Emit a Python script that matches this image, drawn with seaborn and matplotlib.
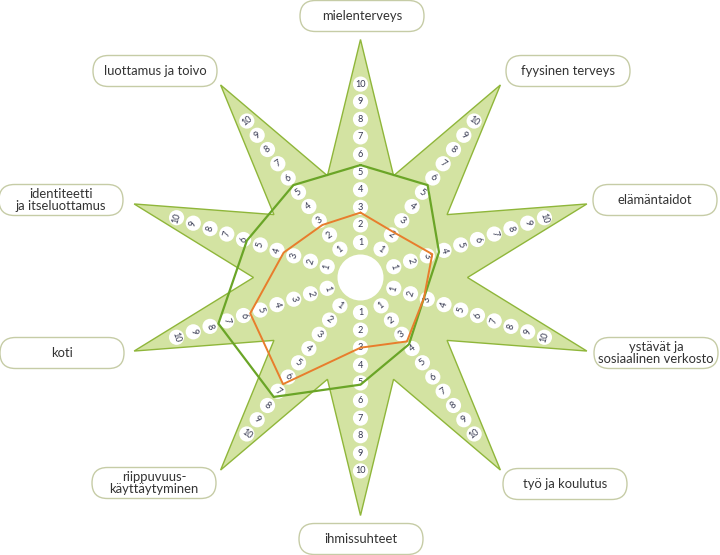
import numpy as np
import pandas as pd
import matplotlib
matplotlib.use("Agg")
import matplotlib.pyplot as plt
from matplotlib.patches import FancyBboxPatch, Circle, Polygon
import seaborn as sns

# arms clockwise from the top
categories = ["mielenterveys", "fyysinen terveys", "elämäntaidot",
              "ystävät ja\nsosiaalinen verkosto", "työ ja koulutus", "ihmissuhteet",
              "riippuvuus-\nkäyttäytyminen", "koti", "identiteetti\nja itseluottamus",
              "luottamus ja toivo"]
scale = list(range(1, 11))
green_scores = [5.4, 5.5, 3.7, 2.8, 3.7, 5.1, 7.4, 7.5, 5.8, 5.5]
orange_scores = [2.7, 2.2, 3.3, 2.8, 3.5, 3.0, 6.5, 5.6, 3.6, 2.7]

# layout, in pixels
cx, cy = 360.5, 277.5
tip_r, valley_r = 238, 107
hub_r = 23
r0, step = 17.4, 17.6
label_pos = [(362, 16), (568, 71), (655, 200), (656, 353), (565, 484),
             (361, 539), (154, 483), (62, 353), (61, 200), (155, 71)]

angles_deg = 90 - 36 * np.arange(len(categories))
angles = np.deg2rad(angles_deg)


def to_xy(values):
    r = r0 + step * np.asarray(values, dtype=float)
    return cx + r * np.cos(angles), cy - r * np.sin(angles)


sns.set_theme(style="white")
plt.rcParams['font.family'] = ['Lato', 'DejaVu Sans']

fig = plt.figure(figsize=(7.2, 5.55), dpi=100)
ax = fig.add_axes([0, 0, 1, 1])

# star background
k = np.arange(20)
a_star = np.deg2rad(90 - 18 * k)
r_star = np.where(k % 2 == 0, tip_r, valley_r)
star = Polygon(np.column_stack([cx + r_star * np.cos(a_star), cy - r_star * np.sin(a_star)]),
               closed=True, fc="#d3e3a2", ec="#8fb63a", lw=1.0, zorder=1)
ax.add_patch(star)
ax.add_patch(Circle((cx, cy), hub_r, fc="white", ec="none", zorder=2))

# numbered dots on every arm
rows = []
for cat, ang in zip(categories, angles_deg):
    a = np.deg2rad(ang)
    a_mod = ang % 360
    rot = a_mod - 90 if a_mod <= 180 else a_mod + 90
    for v in scale:
        r = r0 + step * v
        rows.append({"cat": cat, "value": v, "x": cx + r * np.cos(a),
                     "y": cy - r * np.sin(a), "rot": rot})
dots = pd.DataFrame(rows)
sns.scatterplot(data=dots, x="x", y="y", s=120, color="white", edgecolor="none",
                legend=False, ax=ax, zorder=3)
for _, row in dots.iterrows():
    ax.text(row["x"], row["y"], str(row["value"]), rotation=row["rot"],
            rotation_mode="anchor", ha="center", va="center", fontsize=6.6,
            color="#34374f", zorder=4)

# score polygons
for scores, col, lw in [(green_scores, "#6aa527", 1.6), (orange_scores, "#e87d2c", 1.4)]:
    x, y = to_xy(scores)
    sns.lineplot(x=np.append(x, x[0]), y=np.append(y, y[0]), sort=False,
                 estimator=None, color=col, lw=lw, ax=ax, zorder=5)

# category labels
bw, bh = 124, 31
for cat, (lx, ly) in zip(categories, label_pos):
    box = FancyBboxPatch((lx - bw / 2, ly - bh / 2), bw, bh,
                         boxstyle="round,pad=0,rounding_size=15.5",
                         fc="white", ec="#c6cca6", lw=1.0, zorder=6)
    ax.add_patch(box)
    ax.text(lx, ly, cat, ha="center", va="center", fontsize=9.4, linespacing=1.0,
            color="#333333", zorder=7)

ax.set_xlim(0, 720)
ax.set_ylim(555, 0)
ax.axis("off")
plt.savefig("out.png", dpi=100)
